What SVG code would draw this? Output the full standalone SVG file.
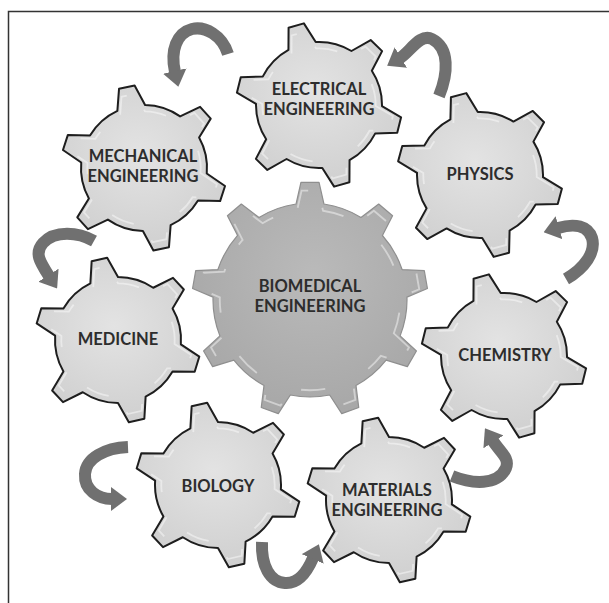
<svg xmlns="http://www.w3.org/2000/svg" xmlns:xlink="http://www.w3.org/1999/xlink" width="609" height="603" viewBox="0 0 609 603">
<style>
.t{font-family:Lato,"Liberation Sans",sans-serif;font-weight:700;font-size:16.5px;fill:#2d2d2d;text-anchor:middle}
.gear{fill:url(#lg);stroke:#1e1e1e;stroke-width:2;stroke-linejoin:round}
.hl{fill:none;stroke:#ffffff;stroke-width:2;opacity:0.45;stroke-dasharray:26 30}
.big{fill:url(#bg);stroke:#8f8f8f;stroke-width:1.2;stroke-linejoin:round}
.arr{fill:none;stroke:#707070;stroke-width:12;marker-end:url(#ah)}
.frame{fill:none;stroke:#333;stroke-width:1.5}
</style>
<defs>
<radialGradient id="lg" cx="0.45" cy="0.42" r="0.62">
<stop offset="0" stop-color="#e3e3e3"/>
<stop offset="1" stop-color="#d0d0d0"/>
</radialGradient>
<radialGradient id="bg" cx="0.45" cy="0.4" r="0.65">
<stop offset="0" stop-color="#bababa"/>
<stop offset="1" stop-color="#a6a6a6"/>
</radialGradient>
<path id="g6" d="M61.39,-14.17 L82.62,-7.96 L82.62,7.96 L61.39,14.17 A63,63 0 0 1 42.97,46.07 L48.20,67.57 L34.42,75.53 L18.42,60.25 A63,63 0 0 1 -18.42,60.25 L-34.42,75.53 L-48.20,67.57 L-42.97,46.07 A63,63 0 0 1 -61.39,14.17 L-82.62,7.96 L-82.62,-7.96 L-61.39,-14.17 A63,63 0 0 1 -42.97,-46.07 L-48.20,-67.57 L-34.42,-75.53 L-18.42,-60.25 A63,63 0 0 1 18.42,-60.25 L34.42,-75.53 L48.20,-67.57 L42.97,-46.07 A63,63 0 0 1 61.39,-14.17 Z"/>
<path id="g9" d="M95.98,-14.00 L117.65,-9.05 L117.65,9.05 L95.98,14.00 A97,97 0 0 1 82.53,50.97 L95.95,68.69 L84.31,82.56 L64.53,72.42 A97,97 0 0 1 30.46,92.09 L29.35,114.29 L11.51,117.44 L2.88,96.96 A97,97 0 0 1 -35.87,90.13 L-50.99,106.42 L-66.67,97.36 L-60.11,76.13 A97,97 0 0 1 -85.41,45.99 L-107.46,48.75 L-113.65,31.73 L-94.98,19.67 A97,97 0 0 1 -94.98,-19.67 L-113.65,-31.73 L-107.46,-48.75 L-85.41,-45.99 A97,97 0 0 1 -60.11,-76.13 L-66.67,-97.36 L-50.99,-106.42 L-35.87,-90.13 A97,97 0 0 1 2.88,-96.96 L11.51,-117.44 L29.35,-114.29 L30.46,-92.09 A97,97 0 0 1 64.53,-72.42 L84.31,-82.56 L95.95,-68.69 L82.53,-50.97 A97,97 0 0 1 95.98,-14.00 Z"/>
<marker id="ah" markerUnits="userSpaceOnUse" viewBox="0 0 16 24" refX="1" refY="12" markerWidth="16" markerHeight="24" orient="auto">
<path d="M0,0 L16,12 L0,24 Z" fill="#707070"/>
</marker>
</defs>
<rect width="609" height="603" fill="#ffffff"/>
<path class="frame" d="M8.5,603 L8.5,11.5 L609,11.5"/>

<g id="biomedical-engineering">
<use xlink:href="#g9" class="big" transform="translate(310,300) rotate(30)"/>
<use xlink:href="#g9" class="hl" transform="translate(310,300) rotate(30) scale(0.93)"/>
<text class="t" x="310" y="292">BIOMEDICAL</text>
<text class="t" x="310" y="312">ENGINEERING</text>
</g>

<g id="mechanical-engineering">
<use xlink:href="#g6" class="gear" transform="translate(144,168) rotate(18)"/>
<use xlink:href="#g6" class="hl" transform="translate(144,168) rotate(18) scale(0.9)"/>
<text class="t" x="143" y="162">MECHANICAL</text>
<text class="t" x="143" y="182">ENGINEERING</text>
</g>

<g id="electrical-engineering">
<use xlink:href="#g6" class="gear" transform="translate(319,105) rotate(14)"/>
<use xlink:href="#g6" class="hl" transform="translate(319,105) rotate(14) scale(0.9)"/>
<text class="t" x="319" y="95">ELECTRICAL</text>
<text class="t" x="319" y="115">ENGINEERING</text>
</g>

<g id="physics">
<use xlink:href="#g6" class="gear" transform="translate(480,175) rotate(15)"/>
<use xlink:href="#g6" class="hl" transform="translate(480,175) rotate(15) scale(0.9)"/>
<text class="t" x="480" y="180">PHYSICS</text>
</g>

<g id="medicine">
<use xlink:href="#g6" class="gear" transform="translate(118,340) rotate(17)"/>
<use xlink:href="#g6" class="hl" transform="translate(118,340) rotate(17) scale(0.9)"/>
<text class="t" x="118" y="345">MEDICINE</text>
</g>

<g id="chemistry">
<use xlink:href="#g6" class="gear" transform="translate(504,356) rotate(14)"/>
<use xlink:href="#g6" class="hl" transform="translate(504,356) rotate(14) scale(0.9)"/>
<text class="t" x="505" y="361">CHEMISTRY</text>
</g>

<g id="biology">
<use xlink:href="#g6" class="gear" transform="translate(218,485) rotate(17)"/>
<use xlink:href="#g6" class="hl" transform="translate(218,485) rotate(17) scale(0.9)"/>
<text class="t" x="218" y="492">BIOLOGY</text>
</g>

<g id="materials-engineering">
<use xlink:href="#g6" class="gear" transform="translate(389,500) rotate(17)"/>
<use xlink:href="#g6" class="hl" transform="translate(389,500) rotate(17) scale(0.9)"/>
<text class="t" x="387" y="496">MATERIALS</text>
<text class="t" x="387" y="516">ENGINEERING</text>
</g>

<g id="connectors">
<path class="arr" d="M228,54 C222,35 205,26 192,29 C177,33 170,50 175,72"/>
<path class="arr" d="M439,96 C448,74 450,48 432,39 C420,33 410,52 400,58"/>
<path class="arr" d="M566,279 C585,268 596,252 592,238 C588,226 575,223 558,228"/>
<path class="arr" d="M452,476 C472,484 498,486 506,468 C510,458 500,452 493,441"/>
<path class="arr" d="M262,542 C261,566 270,582 285,583 C298,584 307,572 313,558"/>
<path class="arr" d="M128,447 C105,448 86,458 85,474 C84,490 98,499 112,499"/>
<path class="arr" d="M94,241 C78,232 55,230 43,243 C34,253 40,262 49,276"/>
</g>
</svg>
